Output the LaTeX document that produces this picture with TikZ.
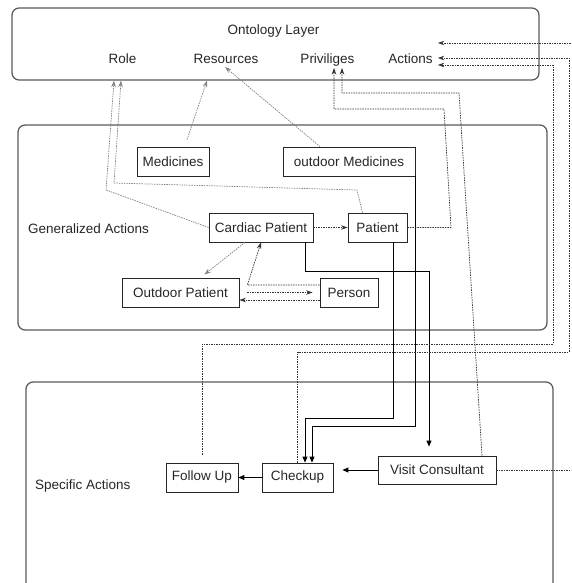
\documentclass[tikz,border=0pt]{standalone}
\usepackage{fontspec}
\setmainfont{Liberation Sans}
\usepackage{tikz}
\usetikzlibrary{arrows.meta}
\tikzset{
	layer/.style={
		% The shape:
		rectangle,rounded corners=2.5mm,
		% The border:
		draw=black!65,line width=1.3pt,
	}}
\tikzset{
	entity/.style={
		% The shape:
		shape=rectangle,
		% The size:
		minimum height=29pt,inner xsep=5pt,
		% The border:
		draw=black!85,line width=0.8pt,
		% The text:
		text=black!85,
	}}
\tikzset{
	layertext/.style={anchor=base,inner sep=2pt,text=black!85},
	solidarrow/.style={-{Triangle[length=6pt,width=5pt]},line width=0.9pt},
	dotarrow/.style={-{Stealth[length=6.5pt,width=4.5pt]},black!80,line width=0.7pt,dash pattern=on 1.5pt off 1pt},
	fadearrow/.style={dotarrow,black!50},
}

\begin{document}
\begin{tikzpicture}[x=1pt,y=-1pt,font=\fontsize{13.5}{16}\selectfont]
	\path[use as bounding box,clip] (0,0) rectangle (571,583);
	% the three layers
	\node[layer,minimum width=527pt,minimum height=72pt] (onto) at (275.5,44) {};
	\node[layer,minimum width=529pt,minimum height=205pt] (gen) at (282.5,227.5) {};
	\node[layer,minimum width=527pt,minimum height=260pt] (spec) at (289.5,512) {};
	\node[layertext] (onto-t) at (273.5,35) {Ontology Layer};
	\node[layertext] (role) at (122.5,64) {Role};
	\node[layertext] (res) at (226,64) {Resources};
	\node[layertext] (priv) at (327.5,64) {Priviliges};
	\node[layertext] (act) at (410.5,64) {Actions};
	\node[layertext,anchor=base west] (gen-t) at (26,233) {Generalized Actions};
	\node[layertext,anchor=base west] (spec-t) at (33,489) {Specific Actions};
	% generalized actions
	\node[entity,minimum width=72pt] (med) at (173,161.5) {Medicines};
	\node[entity,minimum width=132pt] (omed) at (349,161.5) {outdoor Medicines};
	\node[entity,minimum width=104pt] (cardiac) at (261,227.5) {Cardiac Patient};
	\node[entity,minimum width=59pt] (patient) at (377.5,227.5) {Patient};
	\node[entity,minimum width=117pt] (outpat) at (180.5,292.5) {Outdoor Patient};
	\node[entity,minimum width=58pt] (person) at (349,292.5) {Person};
	% specific actions
	\node[entity,minimum width=72pt] (follow) at (202,477.5) {Follow Up};
	\node[entity,minimum width=71pt] (checkup) at (297.5,477.5) {Checkup};
	\node[entity,minimum width=118pt,minimum height=28pt] (visit) at (437,470) {Visit Consultant};
	% solid flows
	\draw[solidarrow] (checkup) -- (follow);
	\draw[solidarrow,shorten >=9pt] (visit.west) -- (visit.west -| checkup.east);
	\draw[solidarrow] ([xshift=15.5pt]patient.south) |- (305,418) -- ([xshift=7.5pt]checkup.north);
	\draw[solidarrow] (omed.south east) |- (312,426) -- ([xshift=14.5pt]checkup.north);
	\draw[solidarrow,shorten >=9pt] ([xshift=44pt]cardiac.south) |- (429,271) -- ([xshift=-8pt]visit.north);
	% dotted links inside the layer
	\draw[dotarrow] (cardiac) -- (patient);
	\draw[fadearrow,shorten >=5pt] ([xshift=-16pt]cardiac.south) -- ([xshift=20pt]outpat.north);
	\draw[dotarrow] ([yshift=7.5pt]person.west) -- ([xshift=8pt,yshift=7.5pt]outpat.east) -- (cardiac.south);
	\draw[dotarrow,shorten >=7pt] ([xshift=8pt]outpat.east) -- (person.west);
	\draw[dotarrow] ([yshift=-7.5pt]person.west) -- ([yshift=-7.5pt]outpat.east);
	% links up to the ontology
	\draw[fadearrow] (cardiac.west) -- (106,190) -- ([xshift=-8.5pt]role.base |- onto.south);
	\draw[fadearrow] ([xshift=-15pt]patient.north) -- (357,190) -- (114,183) -- ([xshift=-1.5pt]role.base |- onto.south);
	\draw[fadearrow] ([xshift=14pt,yshift=7pt]med.north) -- ([xshift=-19pt]res.base |- onto.south);
	\draw[fadearrow] ([xshift=-29pt]omed.north) -- ([xshift=-1pt,yshift=-3pt]res.base);
	\draw[dotarrow] (patient.east) -- (451,227.5) -- (444,109) -- (334,109) -- ([xshift=6.5pt,yshift=-4pt]priv.base);
	\draw[dotarrow] ([xshift=45pt]visit.north) -- (459,93) -- (342,93) -- ([xshift=14.5pt,yshift=-4pt]priv.base);
	\draw[dotarrow] (visit.east) -- (600,470) -- (600,43) -- ([xshift=3pt,yshift=21pt]act.base east);
	\draw[dotarrow] (checkup.north) -- (297.5,352) -- (569,352) -- (569,58) -- ([xshift=3pt,yshift=6pt]act.base east);
	\draw[dotarrow] ([yshift=8pt]follow.north) -- (202,344) -- (553,344) -- (553,65) -- ([xshift=3pt,yshift=-1pt]act.base east);
\end{tikzpicture}
\end{document}
